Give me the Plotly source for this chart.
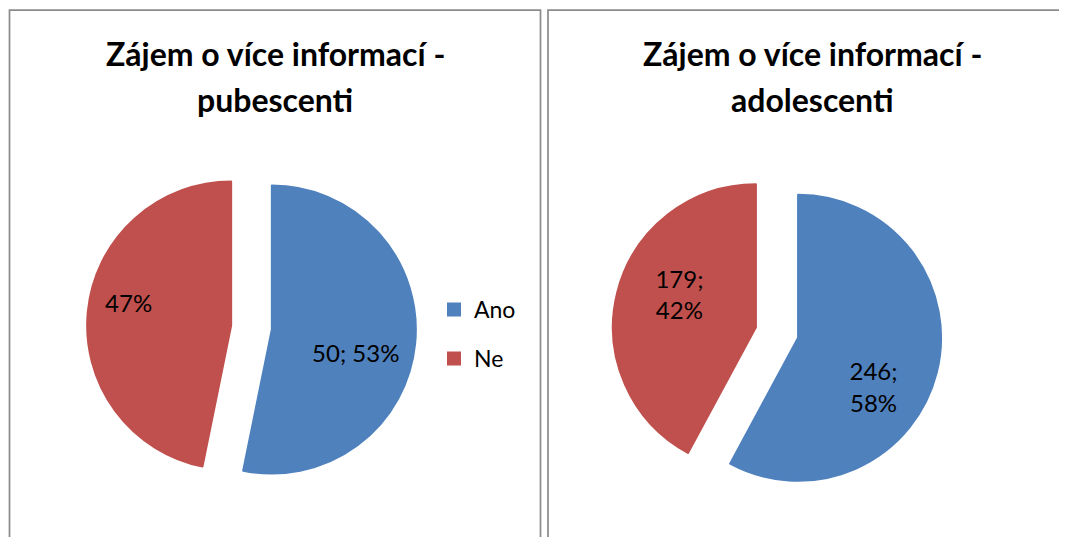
import plotly.graph_objects as go

# ---- data ----
categories = ["Ano", "Ne"]
slice_colors = ["#4F81BD", "#C0504D"]
pubescenti_values = [50, 44]
adolescenti_values = [246, 179]
title_left = ["Zájem o více informací -", "pubescenti"]
title_right = ["Zájem o více informací -", "adolescenti"]

# ---- label formats (text only; padding nudges label placement like the original) ----
NB = "\u00a0"
pubescenti_text = [
    NB + "<br>" + NB * 4 + "%{value}; %{percent:.0%}",
    "%{percent:.0%}" + NB * 10 + "<br>" + NB,
]
adolescenti_text = [
    NB + "<br>" + NB + "<br>" + NB * 2 + "%{value};<br>" + NB * 2 + "%{percent:.0%}",
    "%{value};" + NB * 2 + "<br>%{percent:.0%}" + NB * 2 + "<br>" + NB,
]

# page body has an 8px margin -> figure is drawn 8px in from the window edge
OFF = 8
WIN_W, WIN_H = 1067, 537
W, H = WIN_W - OFF, WIN_H - OFF
FONT = "Lato"


def px(x):
    return (x - OFF) / W


def py(y):
    return 1 - (y - OFF) / H


def dom(cx, cy, half):
    return dict(x=[px(cx - half), px(cx + half)], y=[py(cy + half), py(cy - half)])


legend_labels = [
    f"<span style='font-size:23px;baseline-shift:5.5px'>{c}</span>" for c in categories
]

common_pie = dict(
    labels=legend_labels, sort=False, direction="clockwise", rotation=0,
    textposition="inside", insidetextorientation="horizontal",
    textfont=dict(family=FONT, size=24, color="black"),
    marker=dict(colors=slice_colors, line=dict(color=slice_colors, width=2)),
    hoverinfo="value+percent",
)

fig = go.Figure()
fig.add_trace(go.Pie(
    values=pubescenti_values, pull=[0.142, 0.142],
    texttemplate=pubescenti_text,
    domain=dom(251.5, 327.5, 144 * 1.142),
    legend="legend", **common_pie,
))
fig.add_trace(go.Pie(
    values=adolescenti_values, pull=[0.152, 0.152],
    texttemplate=adolescenti_text,
    domain=dom(777, 332.5, 143 * 1.152),
    legend="legend2", **common_pie,
))

shapes = [
    dict(type="rect", xref="paper", yref="paper",
         x0=px(9.5), x1=px(540.5), y0=py(560), y1=py(10),
         line=dict(color="#8c8c8c", width=1.75), fillcolor="rgba(0,0,0,0)"),
    dict(type="rect", xref="paper", yref="paper",
         x0=px(548), x1=px(1080), y0=py(560), y1=py(10),
         line=dict(color="#8c8c8c", width=1.75), fillcolor="rgba(0,0,0,0)"),
]

annotations = []
for lines, cx in [(title_left, 275), (title_right, 812)]:
    for text, cy in zip(lines, [53.6, 99.3]):
        annotations.append(dict(
            text=text, x=px(cx), y=py(cy), xref="paper", yref="paper",
            xanchor="center", yanchor="middle", showarrow=False,
            font=dict(family=FONT, size=32, color="black", weight="bold"),
        ))

legend_common = dict(
    xanchor="left", yanchor="top",
    font=dict(family=FONT, size=35.4, color="black"),
    bgcolor="rgba(0,0,0,0)", borderwidth=0,
)

fig.update_layout(
    width=W, height=H,
    margin=dict(l=0, r=0, t=0, b=0, pad=0),
    paper_bgcolor="white", plot_bgcolor="white",
    showlegend=True,
    shapes=shapes,
    annotations=annotations,
    legend=dict(x=px(434), y=py(280), **legend_common),
    legend2=dict(x=px(966), y=py(280), **legend_common),
)

fig.write_html("out.html")
